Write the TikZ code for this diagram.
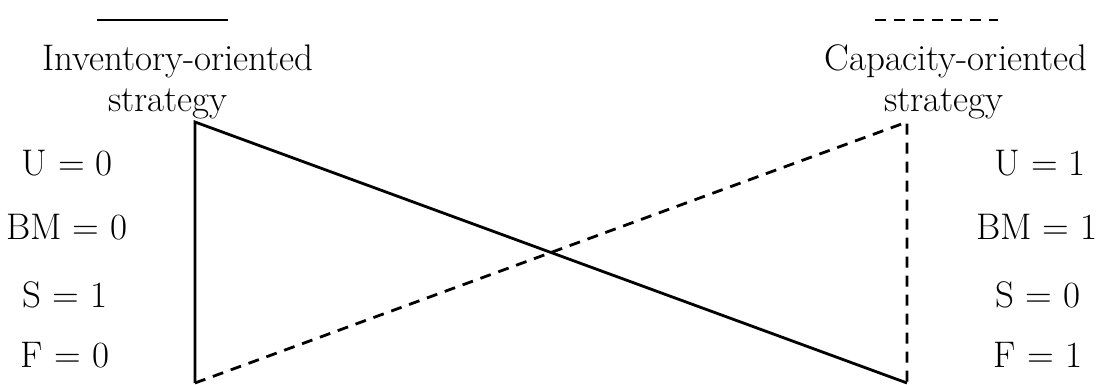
\documentclass[tikz,border=0pt]{standalone}
\begin{document}
\begin{tikzpicture}[x=1pt,y=-1pt,
  lbl/.style={inner sep=0pt,font=\fontsize{37}{42}\selectfont,align=center},
  solidline/.style={line width=2.8pt},
  dashline/.style={line width=2.8pt,dash pattern=on 11pt off 8pt}]
\useasboundingbox (0,0) rectangle (1102,385);
% legend
\coordinate (ls1) at (97,20);
\coordinate (ls2) at (228,20);
\coordinate (ld1) at (875,20);
\coordinate (ld2) at (998,20);
\draw[solidline] (ls1) -- (ls2);
\draw[dashline] (ld1) -- (ld2);
\node[lbl] (inv) at (178,82) {Inventory-oriented\\[-1pt]\hspace*{-20pt}strategy};
\node[lbl] (cap) at (956,82) {Capacity-oriented\\[-1pt]\hspace*{-24pt}strategy};
% corners
\coordinate (TL) at (195,122);
\coordinate (BL) at (195,383);
\coordinate (TR) at (907,122);
\coordinate (BR) at (907,383);
\draw[solidline] (BL) -- (TL) -- (BR);
\draw[dashline] (BL) -- (TR) -- (BR);
% left values
\node[lbl] (u0) at (67,163) {U = 0};
\node[lbl] (bm0) at (67,227) {BM = 0};
\node[lbl] (s1) at (65,295) {S = 1};
\node[lbl] (f0) at (65,355) {F = 0};
% right values
\node[lbl] (u1) at (1040,163) {U = 1};
\node[lbl] (bm1) at (1037,227) {BM = 1};
\node[lbl] (s0) at (1038,295) {S = 0};
\node[lbl] (f1) at (1038,355) {F = 1};
\end{tikzpicture}
\end{document}
